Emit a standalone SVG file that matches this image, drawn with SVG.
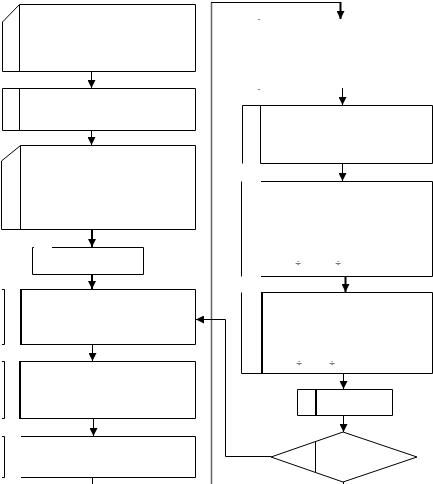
<svg xmlns="http://www.w3.org/2000/svg" width="433" height="484" viewBox="0 0 433 484">
<defs>
<marker id="ah" markerWidth="8" markerHeight="8" refX="8" refY="4" orient="auto" markerUnits="userSpaceOnUse">
<path d="M0,0 L8,4 L0,8 Z" fill="#000"/>
</marker>
</defs>
<style>
.n{fill:none;stroke:#000;stroke-width:1}
.t{fill:none;stroke:#000;stroke-width:2}
.c{fill:none;stroke:#000;stroke-width:1}
.g{fill:none;stroke:#666;stroke-width:1.5}
.m{font-family:"DejaVu Sans",sans-serif;font-size:8px;fill:#555}
</style>
<rect width="433" height="484" fill="#fff"/>
<g id="n1"><path class="n" d="M2.5,22 L19.5,4.5 L195.5,4.5 L195.5,71.5 L2.5,71.5 Z M19.5,4.5 L19.5,71.5"/></g>
<g id="n2"><path class="n" d="M2.5,88.5 L195.5,88.5 L195.5,130.5 L2.5,130.5 Z M19.5,88.5 L19.5,130.5"/></g>
<g id="n3"><path class="n" d="M1.5,161 L20.5,145.5 L195.5,145.5 L195.5,229.5 L1.5,229.5 Z M20.5,145.5 L20.5,229.5"/></g>
<g id="n4"><path class="n" d="M32.5,247.5 L34,247.5 M52,247.5 L143.5,247.5 L143.5,274.5 L32.5,274.5 L32.5,247.5"/></g>
<g id="n5"><path class="n" d="M21,289.5 L195.5,289.5 L195.5,344.5 L21,344.5 M2,289.5 L4.5,289.5 L4.5,344.5 L2,344.5"/><path class="t" d="M21,289 L21,345"/></g>
<g id="n6"><path class="n" d="M20,361.5 L195.5,361.5 L195.5,418.5 L20,418.5 M2,361.5 L4.5,361.5 L4.5,418.5 L2,418.5"/><path class="t" d="M20,361 L20,419"/></g>
<g id="n7"><path class="n" d="M21,436.5 L195.5,436.5 L195.5,477.5 L21,477.5 M2,436.5 L4.5,436.5 L4.5,477.5 L2,477.5"/></g>
<g id="n8"><path class="n" d="M242.5,105.5 L432.5,105.5 L432.5,163.5 L260.5,163.5 M242.5,105.5 L242.5,163.5 M260.5,105.5 L260.5,163.5"/></g>
<g id="n9"><path class="n" d="M261,181.5 L432.5,181.5 L432.5,276.5 L261,276.5 M241.5,181.5 L241.5,276.5"/><text class="m" x="298" y="266" text-anchor="middle">÷</text><text class="m" x="338" y="266" text-anchor="middle">÷</text></g>
<g id="n10"><path class="n" d="M262,292.5 L432.5,292.5 L432.5,373.5 L241.5,373.5 L241.5,292.5"/><path class="t" d="M262,292 L262,374"/><text class="m" x="299" y="366" text-anchor="middle">÷</text><text class="m" x="332" y="366" text-anchor="middle">÷</text></g>
<g id="n11"><path class="n" d="M297.5,389.5 L392.5,389.5 L392.5,415.5 L297.5,415.5 Z"/><path class="t" d="M316,389.5 L316,415.5"/></g>
<g id="n12"><path class="n" d="M343,432 L417,457 L343,482 L271,457 Z M315.5,441 L315.5,472"/></g>
<g id="marks"><text class="m" x="259" y="22" text-anchor="middle">-</text><text class="m" x="259" y="92" text-anchor="middle">-</text></g>
<g id="connectors">
<path class="c" d="M91.5,72 L91.5,88" marker-end="url(#ah)"/>
<path class="c" d="M91.5,131 L91.5,145" marker-end="url(#ah)"/>
<path class="t" d="M92,230 L92,247" marker-end="url(#ah)"/>
<path class="t" d="M92,275 L92,289" marker-end="url(#ah)"/>
<path class="c" d="M92.5,345 L92.5,361" marker-end="url(#ah)"/>
<path class="c" d="M93.5,419 L93.5,436" marker-end="url(#ah)"/>
<path class="c" d="M92.5,478 L92.5,484"/>
<path class="g" d="M211.5,484 L211.5,2.5"/>
<path class="c" d="M211,2.5 L340,2.5"/>
<path class="t" d="M340.5,2 L340.5,19" marker-end="url(#ah)"/>
<path class="c" d="M342.5,88 L342.5,105" marker-end="url(#ah)"/>
<path class="c" d="M342.5,164 L342.5,181" marker-end="url(#ah)"/>
<path class="t" d="M345.5,277 L345.5,292" marker-end="url(#ah)"/>
<path class="c" d="M343.5,374 L343.5,389" marker-end="url(#ah)"/>
<path class="c" d="M343.5,416 L343.5,432" marker-end="url(#ah)"/>
<path class="c" d="M271,456.5 L225.5,456.5 L225.5,319.5 L196,319.5" marker-end="url(#ah)"/>
<path class="c" d="M343.5,482 L343.5,484"/>
</g>
</svg>
